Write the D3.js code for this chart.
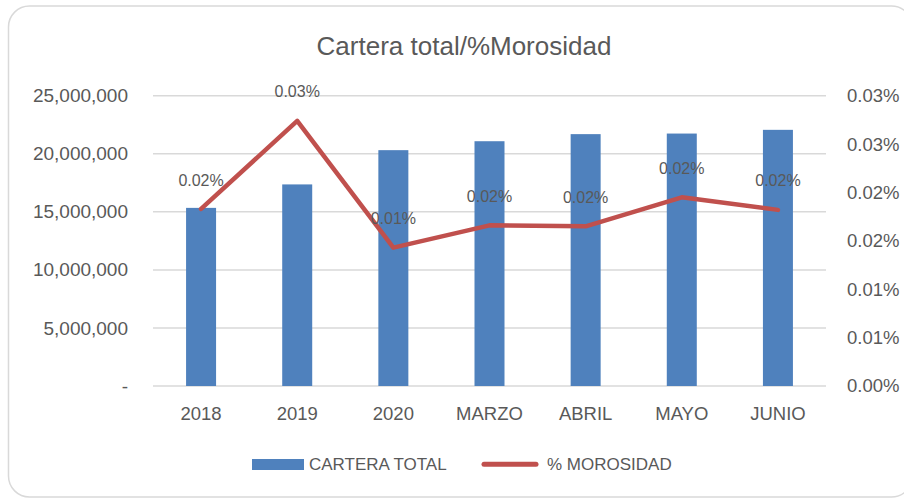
<!DOCTYPE html>
<html>
<head>
<meta charset="utf-8">
<script src="https://cdn.jsdelivr.net/npm/d3@7"></script>
<style>
  body { margin: 0; background: #fff; }
  text { font-family: "Liberation Sans", Arial, sans-serif; fill: #595959; }
</style>
</head>
<body>
<svg width="904" height="498"></svg>
<script>
let categories = ['2018', '2019', '2020', 'MARZO', 'ABRIL', 'MAYO', 'JUNIO'];
let cartera = [15340000, 17360000, 20310000, 21080000, 21690000, 21740000, 22060000];
// % morosidad, in percent units
let morosidad = [0.0183, 0.0274, 0.0143, 0.0166, 0.0165, 0.0195, 0.0182];
let rightTickLabels = ['0.00%', '0.01%', '0.01%', '0.02%', '0.02%', '0.03%', '0.03%'];
let seriesNames = ['CARTERA TOTAL', '% MOROSIDAD'];

let blue = '#4f81bd';
let red = '#c0504d';
let grid = '#d9d9d9';

let svg = d3.select('svg');
let plotLeft = 153, plotRight = 826, plotTop = 95.7, plotBottom = 386;

// chart frame
svg.append('rect')
  .attr('x', 8.5).attr('y', 6)
  .attr('width', 904).attr('height', 491)
  .attr('rx', 21).attr('ry', 21)
  .attr('fill', 'none')
  .attr('stroke', grid)
  .attr('stroke-width', 1.5);

svg.append('text')
  .attr('x', 464).attr('y', 55)
  .attr('text-anchor', 'middle')
  .style('font-size', '26px')
  .text('Cartera total/%Morosidad');

let x = d3.scaleBand()
  .domain(categories)
  .range([plotLeft, plotRight])
  .paddingInner(0.688)
  .paddingOuter(0.344);

let yL = d3.scaleLinear().domain([0, 25000000]).range([plotBottom, plotTop]);
let yR = d3.scaleLinear().domain([0, 0.03]).range([plotBottom, plotTop]);

// gridlines
svg.append('g')
  .selectAll('line')
  .data(yL.ticks(5))
  .enter().append('line')
  .attr('x1', plotLeft).attr('x2', plotRight)
  .attr('y1', d => yL(d)).attr('y2', d => yL(d))
  .attr('stroke', grid)
  .attr('stroke-width', 1.5);

let fmt = d3.format(',');
let leftAxis = svg.append('g')
  .attr('transform', 'translate(' + (plotLeft - 25) + ',0)')
  .call(d3.axisLeft(yL).tickValues(yL.ticks(5)).tickSize(0).tickPadding(0)
    .tickFormat(d => d === 0 ? '-' : fmt(d)));

let rTicks = yR.ticks(6);
let rightAxis = svg.append('g')
  .attr('transform', 'translate(' + (plotRight + 21) + ',0)')
  .call(d3.axisRight(yR).tickValues(rTicks).tickSize(0).tickPadding(0)
    .tickFormat((d, i) => rightTickLabels[i]));

let xAxis = svg.append('g')
  .attr('transform', 'translate(0,' + plotBottom + ')')
  .call(d3.axisBottom(x).tickSize(0).tickPadding(21));

[leftAxis, rightAxis, xAxis].forEach(a => {
  a.select('.domain').remove();
  a.selectAll('text').style('font-size', '18.5px').attr('fill', '#595959')
    .style('font-family', '"Liberation Sans", Arial, sans-serif');
});
leftAxis.selectAll('text').style('font-size', '19px');

// bars
svg.append('g')
  .selectAll('rect')
  .data(cartera)
  .enter().append('rect')
  .attr('x', (d, i) => x(categories[i]))
  .attr('y', d => yL(d))
  .attr('width', x.bandwidth())
  .attr('height', d => plotBottom - yL(d))
  .attr('fill', blue);

// line
let line = d3.line()
  .x((d, i) => x(categories[i]) + x.bandwidth() / 2)
  .y(d => yR(d));

svg.append('path')
  .datum(morosidad)
  .attr('d', line)
  .attr('fill', 'none')
  .attr('stroke', red)
  .attr('stroke-width', 4.5)
  .attr('stroke-linejoin', 'round')
  .attr('stroke-linecap', 'round');

// data labels
svg.append('g')
  .selectAll('text')
  .data(morosidad)
  .enter().append('text')
  .attr('x', (d, i) => x(categories[i]) + x.bandwidth() / 2)
  .attr('y', d => yR(d) - 29)
  .attr('dy', '0.35em')
  .attr('text-anchor', 'middle')
  .style('font-size', '16px')
  .text(d => (Math.round(d * 100 + 1e-9) / 100).toFixed(2) + '%');

// legend
let legend = svg.append('g');
legend.append('rect')
  .attr('x', 252).attr('y', 459)
  .attr('width', 52).attr('height', 11)
  .attr('fill', blue);
legend.append('text')
  .attr('x', 309).attr('y', 464.5).attr('dy', '0.35em')
  .style('font-size', '17px')
  .text(seriesNames[0]);
legend.append('line')
  .attr('x1', 484).attr('x2', 536)
  .attr('y1', 464.3).attr('y2', 464.3)
  .attr('stroke', red)
  .attr('stroke-width', 5)
  .attr('stroke-linecap', 'round');
legend.append('text')
  .attr('x', 547).attr('y', 464.5).attr('dy', '0.35em')
  .style('font-size', '17px')
  .text(seriesNames[1]);
</script>
</body>
</html>
